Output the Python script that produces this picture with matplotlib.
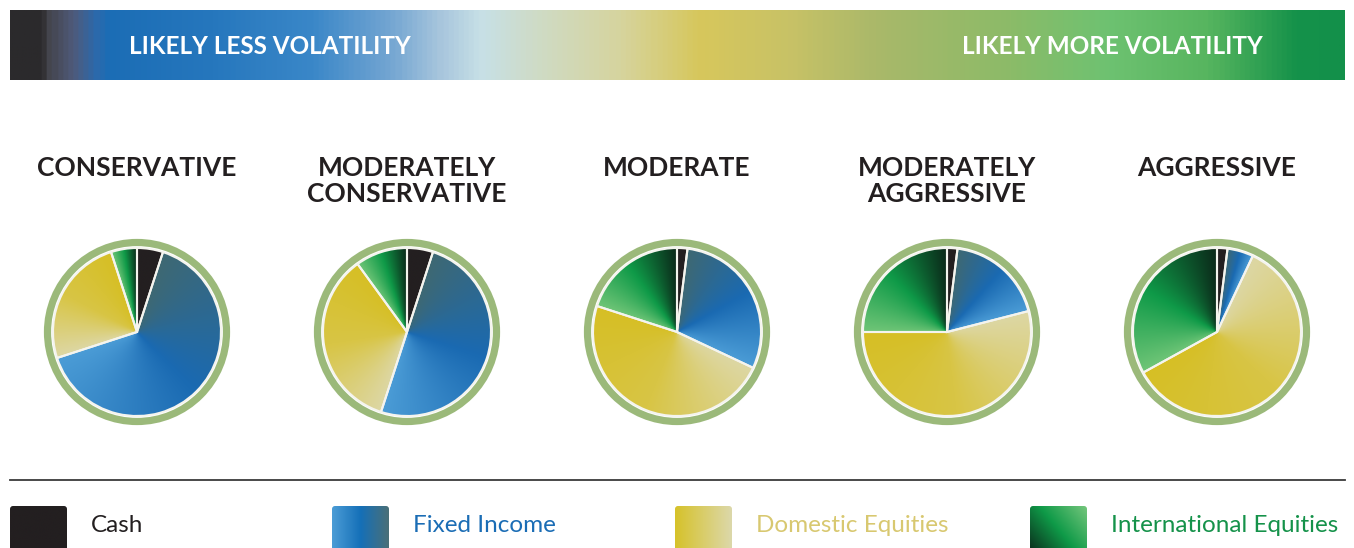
import numpy as np
import matplotlib.pyplot as plt
from matplotlib.colors import LinearSegmentedColormap
from matplotlib.patches import Circle, FancyBboxPatch

plt.rcParams['font.family'] = ['Lato', 'DejaVu Sans']

# allocation data (percent), clockwise from 12 o'clock
profiles = ['CONSERVATIVE', 'MODERATELY\nCONSERVATIVE', 'MODERATE',
            'MODERATELY\nAGGRESSIVE', 'AGGRESSIVE']
assets = ['Cash', 'Fixed Income', 'Domestic Equities', 'International Equities']
cash = [5, 5, 2, 2, 2]
fixed_income = [65, 50, 30, 19, 5]
domestic_eq = [25, 35, 48, 54, 60]
intl_eq = [5, 10, 20, 25, 33]

# colours
wedge_colors = [['#231f20', '#231f20'],
                ['#3e6873', '#1a6ab2', '#4b9cd6'],
                ['#ddd7a4', '#d8c545', '#d6bf25'],
                ['#6fc577', '#0f9a48', '#0b2a1a']]
swatch_colors = [['#231f20', '#231f20'],
                 ['#4b9cd6', '#1570b8', '#4a6f78'],
                 ['#d6c22a', '#dcd8aa'],
                 ['#0b2d1c', '#0f9a48', '#74c67c']]
text_colors = ['#231f20', '#1b6db5', '#d8c870', '#15924a']
ring_color = '#9bb97a'

W, H = 1354, 548
fig = plt.figure(figsize=(W / 100, H / 100), dpi=100)
ax = fig.add_axes([0, 0, 1, 1])


def Y(py):
    return H - py


# banner gradient
banner_stops = [(0, '#2b2a2c'), (30, '#2b2a2c'), (34, '#434348'), (60, '#4f5a7a'),
                (85, '#2a6aae'), (95, '#1b6db5'), (200, '#2677bd'), (300, '#3a87c8'),
                (380, '#74a6d2'), (430, '#a8c6dd'), (470, '#c7e0e6'), (530, '#cfdbc4'),
                (610, '#d6d49e'), (690, '#d7c75c'), (780, '#c8c266'), (870, '#a9b86a'),
                (1000, '#8cbb68'), (1100, '#6ec271'), (1200, '#57b55f'), (1290, '#15924a'),
                (1335, '#13904a')]
pos = np.array([p for p, c in banner_stops], dtype=float)
banner_cmap = LinearSegmentedColormap.from_list(
    'banner', list(zip(pos / pos[-1], [c for p, c in banner_stops])))
ax.imshow(np.linspace(0, 1, 800).reshape(1, -1), cmap=banner_cmap, aspect='auto',
          extent=(10, 1345, Y(80), Y(10)), zorder=0)
ax.text(270, Y(46), 'LIKELY LESS VOLATILITY', color='white', fontsize=17.5,
        fontweight='bold', ha='center', va='center')
ax.text(1112, Y(46), 'LIKELY MORE VOLATILITY', color='white', fontsize=17.5,
        fontweight='bold', ha='center', va='center')


def wedge_gradient(cx, cy, r, a0, a1, colors, clip):
    n = 260
    gx, gy = np.meshgrid(np.linspace(cx - r, cx + r, n), np.linspace(cy - r, cy + r, n))
    ang = np.degrees(np.arctan2(gx - cx, gy - cy)) % 360
    t = np.clip((ang - a0) / max(a1 - a0, 1e-6), 0, 1)
    cmap = LinearSegmentedColormap.from_list('w', colors)
    im = ax.imshow(t, cmap=cmap, vmin=0, vmax=1, origin='lower', interpolation='bilinear',
                   extent=(cx - r, cx + r, cy - r, cy + r), zorder=1)
    im.set_clip_path(clip)


R = 84
table = np.array([cash, fixed_income, domestic_eq, intl_eq], dtype=float)
for i, name in enumerate(profiles):
    cx, cy = 137 + 270 * i, Y(332)
    vals = table[:, i]
    wedges, _ = ax.pie(vals, startangle=90, counterclock=False, center=(cx, cy), radius=R,
                       wedgeprops=dict(facecolor='none', edgecolor='#f4f4ee',
                                       linewidth=1.5, zorder=2))
    ends = np.cumsum(vals) / vals.sum() * 360
    starts = np.concatenate([[0], ends[:-1]])
    for w, a0, a1, cols in zip(wedges, starts, ends, wedge_colors):
        wedge_gradient(cx, cy, R, a0, a1, cols, w)
    ax.add_patch(Circle((cx, cy), 89.5, fill=False, ec=ring_color, lw=5.2, zorder=3))
    ax.text(cx, Y(156), name, ha='center', va='top', fontsize=19, fontweight='bold',
            color='#231f20', linespacing=1.1)

# separator line
ax.plot([10, 1345], [Y(480), Y(480)], color='#3a3a3a', lw=1.3)

# legend
legend_x = [10, 332, 675, 1030]
for x0, label, cols, tc in zip(legend_x, assets, swatch_colors, text_colors):
    box = FancyBboxPatch((x0, Y(552)), 57, 46, boxstyle='round,pad=0,rounding_size=3',
                         fc='none', ec='none')
    ax.add_patch(box)
    gx, gy = np.meshgrid(np.linspace(0, 1, 100), np.linspace(0, 1, 100))
    if label == 'International Equities':
        t = (gx * 0.6 + gy * 0.4)
    else:
        t = gx
    im = ax.imshow(t, cmap=LinearSegmentedColormap.from_list('s', cols), vmin=0, vmax=1,
                   origin='lower', extent=(x0, x0 + 57, Y(552), Y(506)), zorder=1)
    im.set_clip_path(box)
    ax.text(x0 + 81, Y(526), label, color=tc, fontsize=17.5, ha='left', va='center')

ax.set_xlim(0, W)
ax.set_ylim(0, H)
ax.axis('off')
fig.savefig('out.png', dpi=100)
